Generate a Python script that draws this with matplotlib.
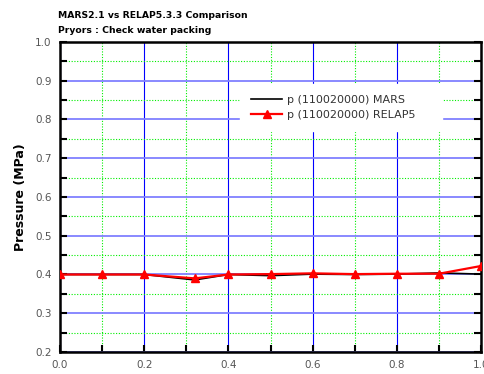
import numpy as np
import matplotlib
matplotlib.use("Agg")
import matplotlib.pyplot as plt
from matplotlib.ticker import MultipleLocator, FormatStrFormatter

# time fraction samples and pressures (MPa)
x_mars = [0.0, 0.1, 0.2, 0.32, 0.4, 0.5, 0.6, 0.7, 0.8, 0.9, 1.0]
p_mars = [0.400, 0.400, 0.400, 0.386, 0.400, 0.397, 0.401, 0.400, 0.401, 0.404, 0.401]
x_relap = [0.0, 0.1, 0.2, 0.32, 0.4, 0.5, 0.6, 0.7, 0.8, 0.9, 1.0]
p_relap = [0.400, 0.400, 0.400, 0.390, 0.400, 0.401, 0.403, 0.401, 0.402, 0.402, 0.422]

title_lines = ["MARS2.1 vs RELAP5.3.3 Comparison", "Pryors : Check water packing"]
labels = ["p (110020000) MARS", "p (110020000) RELAP5"]

fig = plt.figure(figsize=(4.85, 3.74), dpi=100)
ax = fig.add_axes([0.1237, 0.0588, 0.8683, 0.829])

ax.set_xlim(0.0, 1.0)
ax.set_ylim(0.2, 1.0)
ax.xaxis.set_major_locator(MultipleLocator(0.2))
ax.xaxis.set_minor_locator(MultipleLocator(0.1))
ax.yaxis.set_major_locator(MultipleLocator(0.1))
ax.yaxis.set_minor_locator(MultipleLocator(0.05))
ax.xaxis.set_major_formatter(FormatStrFormatter("%.1f"))
ax.yaxis.set_major_formatter(FormatStrFormatter("%.1f"))

ax.grid(which="major", axis="x", color="#0000ff", lw=0.8)
ax.grid(which="major", axis="y", color="#8080ff", lw=1.3)
ax.grid(which="minor", color="#00ee00", lw=0.8, ls=(0, (1, 1.5)))
ax.set_axisbelow(True)

ax.tick_params(which="both", direction="in", top=False, right=True,
               labelsize=7.5, labelcolor="#555555", width=1.5, pad=6, length=5)
for s in ax.spines.values():
    s.set_linewidth(1.8)

ax.plot(x_mars, p_mars, color="black", lw=1.2, label=labels[0], zorder=3)
ax.plot(x_relap, p_relap, color="red", lw=1.6, marker="^", ms=6,
        label=labels[1], zorder=4)

# white box behind the legend hides the grid, wider than its text
leg = ax.legend(loc="upper left", bbox_to_anchor=(0.428, 0.765, 0.48, 0.1),
                mode="expand", borderaxespad=0, frameon=True,
                fancybox=False, framealpha=1, edgecolor="white",
                fontsize=8, handlelength=2.8, handletextpad=0.4,
                borderpad=1.0, labelspacing=0.45)
for t in leg.get_texts():
    t.set_color("#333333")

ax.set_ylabel("Pressure (MPa)", fontsize=9, fontweight="bold", labelpad=6)

fig.text(0.12, 0.958, title_lines[0], fontsize=6.7, fontweight="bold", va="center")
fig.text(0.12, 0.918, title_lines[1], fontsize=6.7, fontweight="bold", va="center")

fig.savefig("out.png", dpi=100)
